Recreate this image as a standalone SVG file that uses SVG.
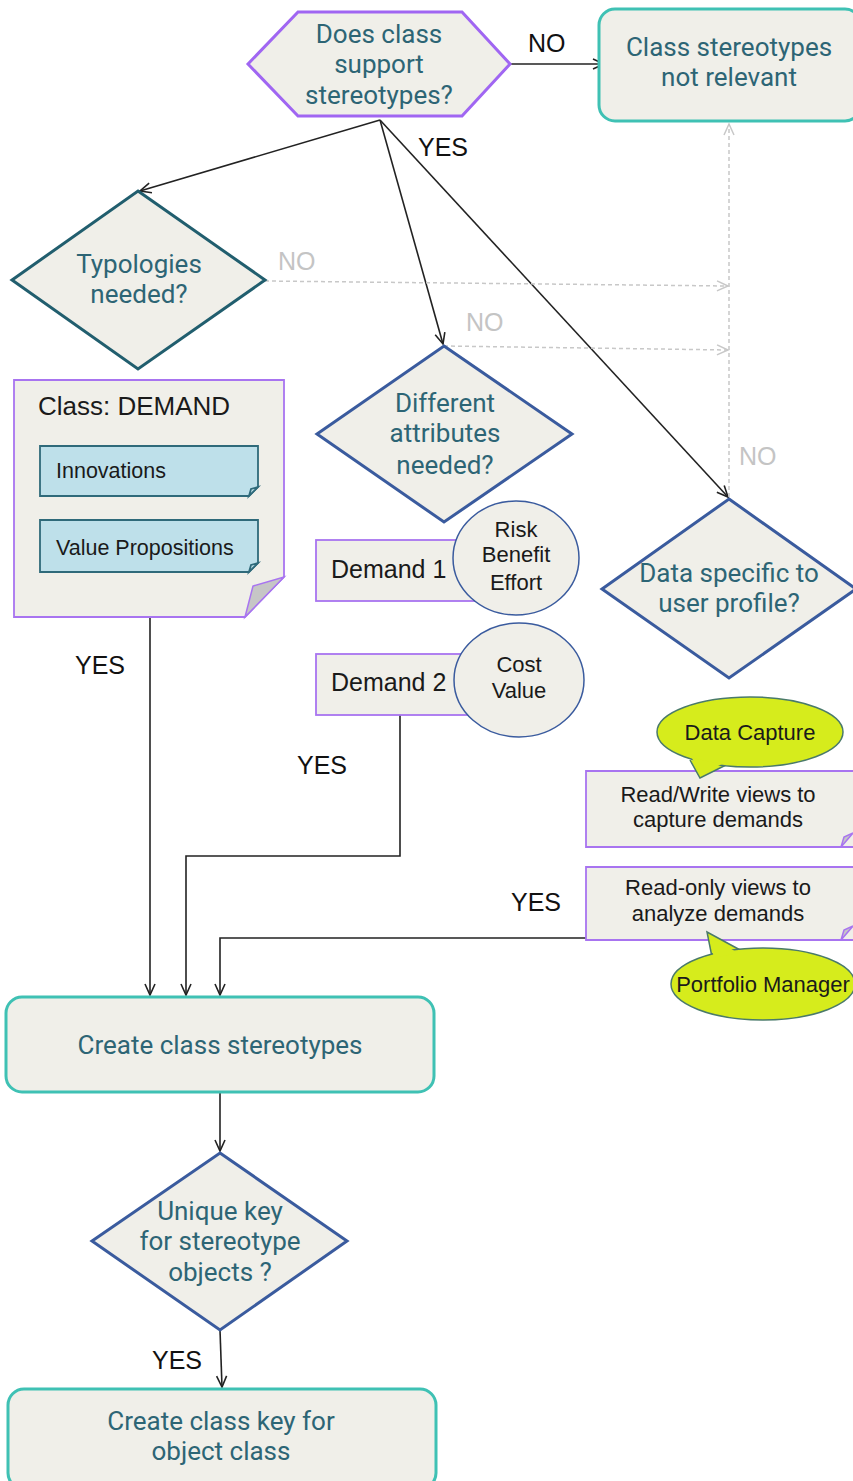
<svg xmlns="http://www.w3.org/2000/svg" width="853" height="1481" viewBox="0 0 853 1481">
<defs>
<style>
.bg{fill:#ffffff}
.teal{font-family:Roboto,"Liberation Sans",sans-serif;font-size:26px;fill:#2d6575;text-anchor:middle}
.blk{font-family:"Liberation Sans",Arial,sans-serif;fill:#1a1a1a}
.sm{font-size:22px}
.lbl{font-family:"Liberation Sans",Arial,sans-serif;font-size:25px;fill:#111}
.glbl{font-family:"Liberation Sans",Arial,sans-serif;font-size:25px;fill:#c4c4c4}
.proc{fill:#f0efe9;stroke:#3fc1b4;stroke-width:3}
.dia{fill:#f0efe9;stroke:#3a5b9e;stroke-width:3;stroke-linejoin:miter}
.note{fill:#f0efe9;stroke:#a874f0;stroke-width:1.8}
.fold{fill:#c6c6c6;stroke:#a874f0;stroke-width:1.5}
.attr{fill:#bee0ea;stroke:#2f6a7a;stroke-width:1.8}
.circ{fill:#f0efe9;stroke:#3a5b9e;stroke-width:1.5}
.bub{fill:#d6ec1c;stroke:#4a7a6a;stroke-width:1.5}
.ln{fill:none;stroke:#222;stroke-width:1.6}
.dash{fill:none;stroke:#c8c8c8;stroke-width:1.5;stroke-dasharray:4 3}
</style>
<marker id="ah" markerUnits="userSpaceOnUse" markerWidth="14" markerHeight="14" refX="12" refY="6" orient="auto">
<path d="M1,1 L12,6 L1,11" fill="none" stroke="#222" stroke-width="1.6"/>
</marker>
<marker id="ahg" markerUnits="userSpaceOnUse" markerWidth="14" markerHeight="14" refX="12" refY="6" orient="auto">
<path d="M1,1 L12,6 L1,11" fill="none" stroke="#c8c8c8" stroke-width="1.5"/>
</marker>
</defs>
<rect class="bg" x="0" y="0" width="853" height="1481"/>

<g id="connectors">
<path class="ln" d="M510,64 L604,64" marker-end="url(#ah)"/>
<path class="ln" d="M380,120 L140,191" marker-end="url(#ah)"/>
<path class="ln" d="M380,120 L443,344" marker-end="url(#ah)"/>
<path class="ln" d="M380,120 L728,497" marker-end="url(#ah)"/>
<path class="dash" d="M265,281 L728,286" marker-end="url(#ahg)"/>
<path class="dash" d="M444,346 L728,350" marker-end="url(#ahg)"/>
<path class="dash" d="M729,497 L729,124" marker-end="url(#ahg)"/>
<path class="ln" d="M150,617 L150,995" marker-end="url(#ah)"/>
<path class="ln" d="M400,715 L400,856 L186,856 L186,995" marker-end="url(#ah)"/>
<path class="ln" d="M586,938 L220,938 L220,995" marker-end="url(#ah)"/>
<path class="ln" d="M220,1092 L220,1151" marker-end="url(#ah)"/>
<path class="ln" d="M220,1330 L222,1387" marker-end="url(#ah)"/>
<text class="lbl" x="528" y="52">NO</text>
<text class="lbl" x="418" y="156">YES</text>
<text class="glbl" x="278" y="270">NO</text>
<text class="glbl" x="466" y="331">NO</text>
<text class="glbl" x="739" y="465">NO</text>
<text class="lbl" x="75" y="674">YES</text>
<text class="lbl" x="297" y="774">YES</text>
<text class="lbl" x="511" y="911">YES</text>
<text class="lbl" x="152" y="1369">YES</text>
</g>

<g id="q-support">
<polygon points="248,64 298,12 462,12 510,64 462,116 298,116" fill="#f0efe9" stroke="#a066f2" stroke-width="3"/>
<text class="teal" x="379" y="43">Does class</text>
<text class="teal" x="379" y="73">support</text>
<text class="teal" x="379" y="104">stereotypes?</text>
</g>

<g id="not-relevant">
<rect class="proc" x="599" y="9" width="262" height="112" rx="16"/>
<text class="teal" x="729" y="56">Class stereotypes</text>
<text class="teal" x="729" y="86">not relevant</text>
</g>

<g id="q-typologies">
<polygon points="138,191 265,280 138,369 12,280" fill="#f0efe9" stroke="#215e6e" stroke-width="3"/>
<text class="teal" x="139" y="273">Typologies</text>
<text class="teal" x="139" y="303">needed?</text>
</g>

<g id="q-attributes">
<polygon class="dia" points="444,346 572,434 444,522 317,434"/>
<text class="teal" x="445" y="412">Different</text>
<text class="teal" x="445" y="442">attributes</text>
<text class="teal" x="445" y="474">needed?</text>
</g>

<g id="q-profile">
<polygon class="dia" points="729,499 856,589 729,678 602,589"/>
<text class="teal" x="729" y="582">Data specific to</text>
<text class="teal" x="729" y="612">user profile?</text>
</g>

<g id="class-demand">
<path class="note" d="M14,380 L284,380 L284,577 L245,617 L14,617 Z"/>
<path class="fold" d="M245,617 L253,586 L284,577 Z"/>
<text class="blk" x="38" y="415" font-size="26">Class: DEMAND</text>
<g id="innovations">
<path class="attr" d="M40,446 L258,446 L258,487 L249,496 L40,496 Z"/>
<path class="attr" d="M249,496 L251,489 L258,487 Z"/>
<text class="blk" x="56" y="478" font-size="21.5">Innovations</text>
</g>
<g id="value-propositions">
<path class="attr" d="M40,520 L258,520 L258,563 L249,572 L40,572 Z"/>
<path class="attr" d="M249,572 L251,565 L258,563 Z"/>
<text class="blk" x="56" y="555" font-size="21.5">Value Propositions</text>
</g>
</g>

<g id="demand1">
<rect class="note" x="316" y="540" width="160" height="61"/>
<text class="blk" x="331" y="578" font-size="25">Demand 1</text>
<ellipse class="circ" cx="516" cy="558" rx="63" ry="57"/>
<text class="blk sm" x="516" y="537" text-anchor="middle">Risk</text>
<text class="blk sm" x="516" y="562" text-anchor="middle">Benefit</text>
<text class="blk sm" x="516" y="590" text-anchor="middle">Effort</text>
</g>

<g id="demand2">
<rect class="note" x="316" y="654" width="160" height="61"/>
<text class="blk" x="331" y="691" font-size="25">Demand 2</text>
<ellipse class="circ" cx="519" cy="680" rx="65" ry="57"/>
<text class="blk sm" x="519" y="672" text-anchor="middle">Cost</text>
<text class="blk sm" x="519" y="698" text-anchor="middle">Value</text>
</g>

<g id="read-write">
<path class="note" d="M586,771 L860,771 L860,847 L586,847 Z"/>
<path class="fold" d="M841,847 L844,837 L853,833 Z"/>
<text class="blk sm" x="718" y="802" text-anchor="middle">Read/Write views to</text>
<text class="blk sm" x="718" y="827" text-anchor="middle">capture demands</text>
</g>

<g id="data-capture">
<path class="bub" d="M690,760 L700,778 L726,765"/>
<ellipse class="bub" cx="750" cy="732" rx="93" ry="35"/>
<path d="M692,758 L700,775 L722,764 Z" fill="#d6ec1c"/>
<text class="blk sm" x="750" y="740" text-anchor="middle">Data Capture</text>
</g>

<g id="read-only">
<path class="note" d="M586,867 L860,867 L860,940 L586,940 Z"/>
<path class="fold" d="M841,940 L844,930 L853,926 Z"/>
<text class="blk sm" x="718" y="895" text-anchor="middle">Read-only views to</text>
<text class="blk sm" x="718" y="921" text-anchor="middle">analyze demands</text>
</g>

<g id="portfolio-manager">
<path class="bub" d="M712,957 L707,932 L742,951"/>
<ellipse class="bub" cx="763" cy="984" rx="92" ry="36"/>
<path d="M714,958 L709,936 L738,953 Z" fill="#d6ec1c"/>
<text class="blk sm" x="763" y="992" text-anchor="middle">Portfolio Manager</text>
</g>

<g id="create-stereotypes">
<rect class="proc" x="6" y="997" width="428" height="95" rx="16"/>
<text class="teal" x="220" y="1054">Create class stereotypes</text>
</g>

<g id="q-unique-key">
<polygon class="dia" points="220,1153 347,1241 220,1330 92,1241"/>
<text class="teal" x="220" y="1220">Unique key</text>
<text class="teal" x="220" y="1250">for stereotype</text>
<text class="teal" x="220" y="1281">objects ?</text>
</g>

<g id="create-key">
<rect class="proc" x="8" y="1389" width="428" height="100" rx="16"/>
<text class="teal" x="221" y="1430">Create class key for</text>
<text class="teal" x="221" y="1460">object class</text>
</g>
</svg>
